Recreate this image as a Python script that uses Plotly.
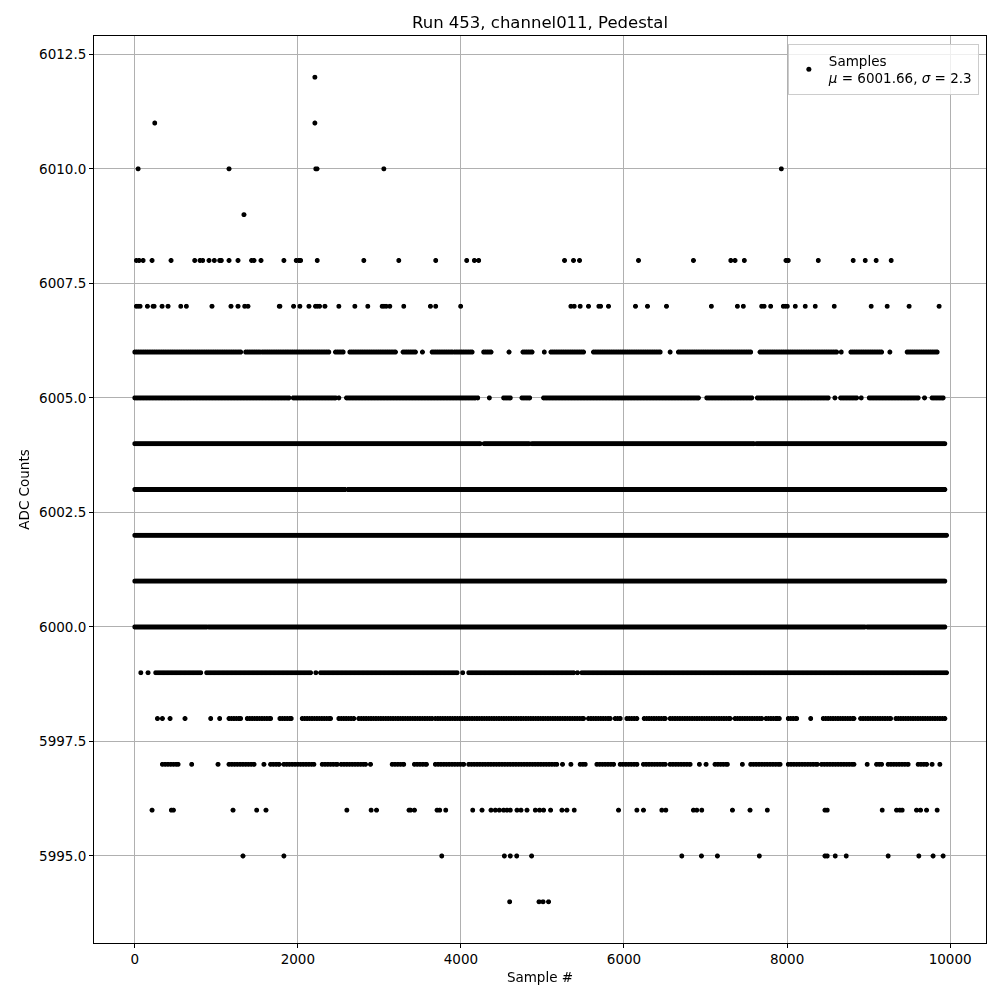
import plotly.graph_objects as go

# ---- Data (sample #, ADC level) ----
# Isolated samples per ADC level
pts_6012 = [2209]
pts_6011 = [245, 2209]
pts_6010 = [41, 1156, 2220, 2235, 3055, 7930]
pts_6009 = [1339]
pts_6008 = [20, 53, 102, 212, 445, 735, 800, 833, 911, 976, 1041, 1062, 1156, 1266,
            1433, 1462, 1548, 1829, 1980, 2013, 2034, 2238, 2809, 3238, 3691, 4071,
            4165, 4218, 5271, 5381, 5455, 6178, 6852, 7310, 7362, 7476, 7987, 8015,
            8383, 8811, 8959, 9093, 9277]
pts_6007 = [20, 41, 65, 155, 225, 237, 335, 408, 564, 633, 947, 1180, 1266, 1348, 1388,
            1772, 1780, 1948, 2025, 2136, 2217, 2238, 2266, 2332, 2503, 2699, 2858, 3034,
            3055, 3083, 3128, 3299, 3626, 3691, 3997, 5349, 5390, 5463, 5565, 5692, 5713,
            5810, 6141, 6288, 6521, 7072, 7391, 7464, 7689, 7718, 7799, 7954, 7979, 8003,
            8101, 8223, 8346, 8579, 9032, 9228, 9497, 9865]
pts_6006 = [3528, 4590, 5023, 6566, 8665, 9261]
pts_6005 = [2503, 4206, 4349, 8587, 8910, 9686]
pts_5999 = [74, 163, 2221, 4022, 5430]
pts_5998 = [278, 339, 433, 616, 931, 1041, 7905, 8290]
pts_5997 = [698, 1021, 1584, 2891, 5246, 5349, 6925, 7007, 7452, 8983, 9779, 9874]
pts_5996 = [212, 449, 474, 1205, 1495, 1609, 2601, 2899, 2965, 3364, 3381, 3430, 3708,
            3740, 3814, 4145, 4259, 4369, 4422, 4471, 4524, 4565, 4606, 4688, 4737, 4810,
            4912, 4965, 5014, 5100, 5239, 5300, 5390, 5933, 6158, 6239, 6464, 6513, 6852,
            6893, 6954, 7330, 7546, 7758, 8465, 8493, 9167, 9343, 9383, 9412, 9588, 9637,
            9711, 9841]
pts_5995 = [1327, 1829, 3765, 4533, 4606, 4684, 4867, 6709, 6950, 7146, 7660, 8465, 8493,
            8591, 8726, 9240, 9616, 9791, 9914]
pts_5994 = [4598, 4958, 5007, 5075]

# Runs of (nearly) continuous samples per ADC level: (first, last)
runs_6006 = [(0, 1298), (1360, 1535), (1564, 1870), (1891, 2380), (2462, 2556),
             (2638, 3197), (3291, 3442), (3647, 3891), (3920, 4137), (4279, 4369),
             (4761, 4872), (5104, 5504), (5626, 6444), (6668, 7554), (7669, 8608),
             (8783, 9159), (9473, 9841)]
runs_6005 = [(0, 1891), (1944, 2462), (2597, 4177), (4524, 4606), (4749, 4843),
             (5014, 6913), (7015, 7567), (7636, 8505), (8657, 8853), (9008, 9608),
             (9779, 9914)]
runs_6004 = [(0, 4235), (4285, 4835), (4870, 7590), (7625, 9935)]
runs_6003 = [(0, 2580), (2615, 9935)]
runs_6002 = [(0, 9955)]
runs_6001 = [(0, 9935)]
runs_6000 = [(0, 880), (910, 8950), (8985, 9935)]
runs_5999 = [(257, 809), (882, 2156), (2279, 3953), (4096, 5381), (5484, 9955)]
runs_5998 = [(1156, 1298), (1380, 1666), (1780, 1919), (2054, 2401), (2503, 2687),
             (2748, 3647), (3687, 5504), (5565, 5831), (5892, 5954), (6035, 6158),
             (6248, 6505), (6566, 7301), (7362, 7689), (7742, 7880), (8015, 8118),
             (8444, 8820), (8902, 9270), (9335, 9935)]
runs_5997 = [(339, 531), (1156, 1462), (1666, 1768), (1829, 2197), (2299, 2483),
             (2532, 2830), (3157, 3299), (3430, 3577), (3687, 4034), (4096, 5176),
             (5463, 5525), (5668, 5872), (5954, 6158), (6239, 6505), (6566, 6811),
             (7117, 7268), (7554, 7914), (8015, 8370), (8424, 8820), (9098, 9159),
             (9240, 9485), (9608, 9711)]

levels = [6012, 6011, 6010, 6009, 6008, 6007, 6006, 6005, 6004, 6003, 6002, 6001,
          6000, 5999, 5998, 5997, 5996, 5995, 5994]
point_lists = [pts_6012, pts_6011, pts_6010, pts_6009, pts_6008, pts_6007, pts_6006,
               pts_6005, [], [], [], [], [], pts_5999, pts_5998, pts_5997, pts_5996,
               pts_5995, pts_5994]
run_lists = [[], [], [], [], [], [], runs_6006, runs_6005, runs_6004, runs_6003,
             runs_6002, runs_6001, runs_6000, runs_5999, runs_5998, runs_5997, [], [], []]
run_spacing = [0, 0, 0, 0, 0, 0, 22, 18, 8, 8, 8, 8, 8, 16, 30, 34, 0, 0, 0]

title_text = "Run 453, channel011, Pedestal"
legend_text = "Samples<br><i>μ</i> = 6001.66, <i>σ</i> = 2.3"
x_ticks = [0, 2000, 4000, 6000, 8000, 10000]
y_ticks = [5995.0, 5997.5, 6000.0, 6002.5, 6005.0, 6007.5, 6010.0, 6012.5]

# ---- Build the sample list ----
xs, ys = [], []
for lvl, pts, runs, step in zip(levels, point_lists, run_lists, run_spacing):
    for p in pts:
        xs.append(p)
        ys.append(lvl)
    for a, b in runs:
        s = a
        while s <= b:
            xs.append(s)
            ys.append(lvl)
            s += step
        xs.append(b)
        ys.append(lvl)

font_family = "DejaVu Sans"
fig = go.Figure()
fig.add_trace(go.Scattergl(
    x=xs, y=ys, mode="markers", name=legend_text,
    marker=dict(color="black", size=5, line=dict(width=0)),
))

axis_common = dict(
    showgrid=True, gridcolor="#b0b0b0", gridwidth=1,
    showline=True, linecolor="black", linewidth=1, mirror=True,
    ticks="outside", ticklen=4, tickcolor="black", tickwidth=1,
    zeroline=False, tickfont=dict(size=13.5, color="black"),
)

fig.update_layout(
    width=1000, height=1000,
    plot_bgcolor="white", paper_bgcolor="white",
    font=dict(family=font_family, size=13.5, color="black"),
    margin=dict(l=86, r=22, t=28, b=65),
    title=dict(text=title_text, x=0.5, xref="paper", xanchor="center", y=0.986,
               yanchor="middle", font=dict(size=16.5)),
    showlegend=True,
    legend=dict(x=0.992, y=0.991, xanchor="right", yanchor="top",
                bordercolor="#cccccc", borderwidth=1, bgcolor="rgba(255,255,255,0.8)",
                font=dict(size=13.5)),
    xaxis=dict(axis_common, title=dict(text="Sample #", font=dict(size=13.5), standoff=6),
               range=[-500, 10440], tickvals=x_ticks,
               ticktext=[str(v) for v in x_ticks]),
    yaxis=dict(axis_common, title=dict(text="ADC Counts", font=dict(size=13.5), standoff=6),
               range=[5993.1, 6012.9], tickvals=y_ticks,
               ticktext=[f"{v:.1f}" for v in y_ticks]),
)

fig.write_html("out.html")
